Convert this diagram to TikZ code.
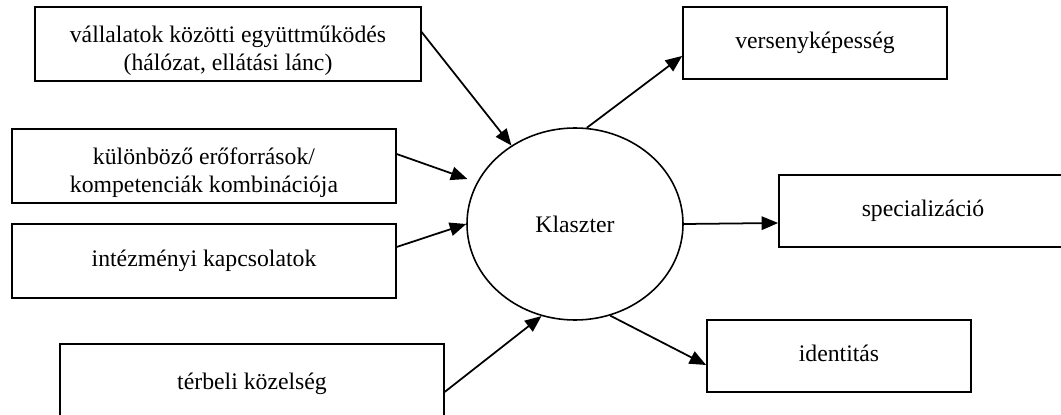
\documentclass[tikz,border=0pt]{standalone}
\usepackage{fontspec}
\setmainfont{Liberation Serif}
\usepackage{tikz}
\usetikzlibrary{shapes.geometric,arrows.meta}

\begin{document}
\begin{tikzpicture}[
    box/.style={draw, line width=1pt, inner sep=0pt, align=center,
        font=\fontsize{13.5}{16}\selectfont},
    onebox/.style={box, text height=0.75em, text depth=0.15em},
    flow/.style={line width=1pt, -{Triangle[length=0.33cm,width=0.27cm]}}]
    \useasboundingbox (0,0) rectangle (21.22,8.28);
    \clip (0,0) rectangle (21.22,8.28);

    % Inputs
    \node[box, minimum width=7.71cm, minimum height=1.47cm] (coop) at (4.56,7.40)
        {\rule{0pt}{1.3em}vállalatok közötti együttműködés\\(hálózat, ellátási lánc)};
    \node[box, minimum width=7.67cm, minimum height=1.49cm] (res) at (4.08,4.96)
        {\rule{0pt}{1.25em}különböző erőforrások/\\kompetenciák kombinációja};
    \node[onebox, minimum width=7.67cm, minimum height=1.49cm] (inst) at (4.08,3.06)
        {intézményi kapcsolatok};
    \node[onebox, minimum width=7.67cm, minimum height=1.6cm] (prox) at (5.04,0.6)
        {térbeli közelség};

    % Cluster
    \node[draw, ellipse, line width=0.9pt, minimum width=4.32cm, minimum height=3.84cm,
        inner sep=0pt, font=\fontsize{13.5}{16}\selectfont] (kl) at (11.5,3.8) {Klaszter};

    % Outputs
    \node[onebox, minimum width=5.28cm, minimum height=1.44cm] (comp) at (16.3,7.42)
        {versenyképesség};
    \node[onebox, minimum width=5.76cm, minimum height=1.44cm] (spec) at (18.46,4.06)
        {specializáció};
    \node[onebox, minimum width=5.28cm, minimum height=1.44cm] (ident) at (16.78,1.16)
        {identitás};

    % Arrows in
    \draw[flow] ([yshift=0.24cm]coop.east) -- (kl.129);
    \draw[flow, shorten >=0.2cm] ([yshift=0.24cm]res.east) -- (kl.157);
    \draw[flow] ([yshift=0.28cm]inst.east) -- (kl.west);
    \draw[flow] ([yshift=-0.16cm]prox.east) -- (kl.250);

    % Arrows out
    \draw[flow] (kl.83) -- ([yshift=-0.26cm]comp.west);
    \draw[flow] (kl.east) -- ([yshift=-0.24cm]spec.west);
    \draw[flow] (kl.291) -- ([yshift=-0.18cm]ident.west);
\end{tikzpicture}
\end{document}
